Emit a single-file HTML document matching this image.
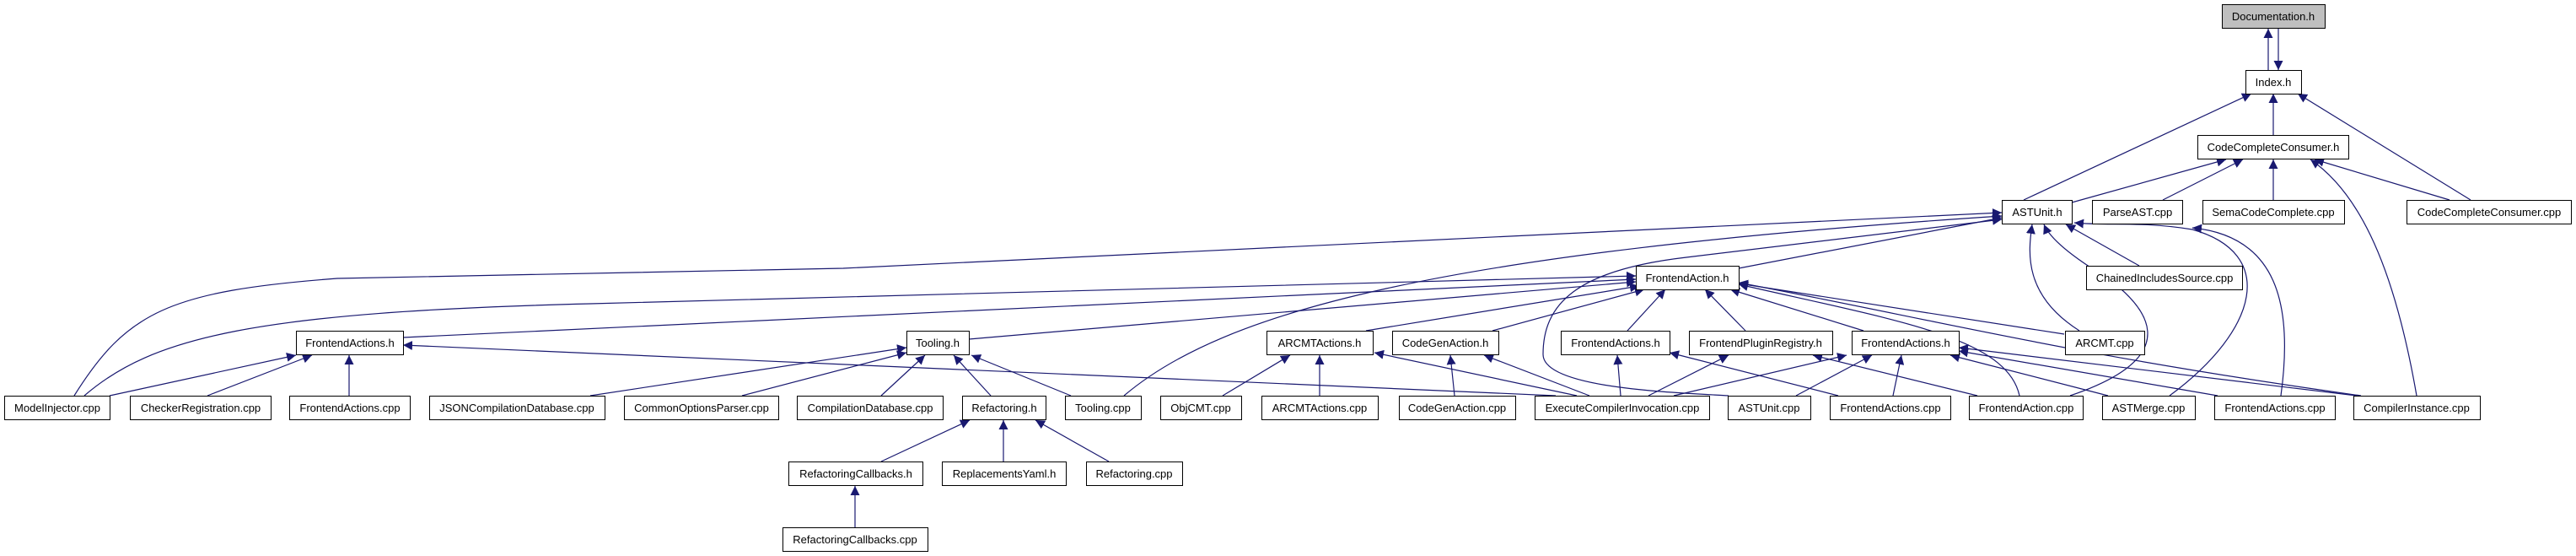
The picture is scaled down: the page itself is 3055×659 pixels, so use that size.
<!DOCTYPE html>
<html><head><meta charset="utf-8"><style>
html,body{margin:0;padding:0;background:#fff;}
svg{display:block;}
text{font-family:"Liberation Sans",sans-serif;font-size:13px;fill:#000;}
</style></head><body>
<svg width="3055" height="659" viewBox="0 0 3055 659" xmlns="http://www.w3.org/2000/svg">
<defs>
<marker id="a" viewBox="0 0 10 10" refX="10" refY="5" markerWidth="11" markerHeight="11" markerUnits="userSpaceOnUse" orient="auto">
<path d="M0,0 L10,5 L0,10 z" fill="#191970"/>
</marker>
</defs>
<g fill="none" stroke="#191970" stroke-width="1.2" marker-end="url(#a)">
<path d="M2690,83 L2690,34"/>
<path d="M2702,34 L2702,83"/>
<path d="M2400,237 L2670,111"/>
<path d="M2696,160 L2696,111"/>
<path d="M2930,237 L2725,111"/>
<path d="M2457,240 L2640,189"/>
<path d="M2565,237 L2660,189"/>
<path d="M2696,237 L2696,189"/>
<path d="M2905,237 L2745,189"/>
<path d="M2866,469 C2840,320 2800,230 2740,189"/>
<path d="M2062,318 L2374,258"/>
<path d="M2537,315 L2450,266"/>
<path d="M88,469 C150,370 200,345 400,330 L1000,318 L2374,252"/>
<path d="M1333,469 C1450,370 1700,300 2374,256"/>
<path d="M2466,392 C2400,350 2405,300 2410,266"/>
<path d="M2455,469 C2600,420 2540,360 2500,330 C2450,300 2430,280 2424,266"/>
<path d="M2573,469 C2680,390 2700,300 2600,272 C2540,262 2500,268 2460,264"/>
<path d="M2705,469 C2720,360 2700,280 2600,270"/>
<path d="M2050,469 C1980,465 1830,460 1830,420 C1830,360 1870,320 2000,305 L2374,260"/>
<path d="M100,469 C180,400 300,370 700,360 L1940,327"/>
<path d="M478,400 L1940,331"/>
<path d="M1149,402 L1940,334"/>
<path d="M1620,392 L1944,339"/>
<path d="M1770,392 L1950,343"/>
<path d="M1930,392 L1975,343"/>
<path d="M2070,392 L2022,343"/>
<path d="M2210,392 L2052,343"/>
<path d="M2448,396 L2062,336"/>
<path d="M2395,469 C2380,400 2250,380 2062,337"/>
<path d="M2800,469 C2450,420 2300,380 2062,335"/>
<path d="M130,469 L351,421"/>
<path d="M246,469 L370,421"/>
<path d="M414,469 L414,421"/>
<path d="M1845,469 L478,409"/>
<path d="M700,469 L1075,412"/>
<path d="M880,469 L1075,418"/>
<path d="M1045,469 L1097,421"/>
<path d="M1175,469 L1131,421"/>
<path d="M1270,469 L1152,421"/>
<path d="M1045,547 L1150,498"/>
<path d="M1190,547 L1190,498"/>
<path d="M1315,547 L1228,498"/>
<path d="M1014,625 L1014,576"/>
<path d="M1450,469 L1530,421"/>
<path d="M1565,469 L1565,421"/>
<path d="M1870,469 L1630,418"/>
<path d="M1725,469 L1720,421"/>
<path d="M1885,469 L1760,421"/>
<path d="M1922,469 L1918,421"/>
<path d="M2180,469 L1980,418"/>
<path d="M1955,469 L2050,421"/>
<path d="M2345,469 L2150,421"/>
<path d="M1985,469 L2190,421"/>
<path d="M2130,469 L2220,421"/>
<path d="M2245,469 L2255,421"/>
<path d="M2500,469 L2313,421"/>
<path d="M2630,469 L2323,416"/>
<path d="M2795,469 L2323,412"/>
</g>
<g stroke="#000" stroke-width="1" fill="#fff">
<rect x="2635.5" y="5.5" width="122" height="28" fill="#bfbfbf"/>
<rect x="2663.5" y="83.5" width="66" height="28"/>
<rect x="2606.5" y="160.5" width="179" height="28"/>
<rect x="2374.5" y="237.5" width="83" height="28"/>
<rect x="2481.5" y="237.5" width="107" height="28"/>
<rect x="2612.5" y="237.5" width="168" height="28"/>
<rect x="2854.5" y="237.5" width="195" height="28"/>
<rect x="1940.5" y="315.5" width="122" height="28"/>
<rect x="2474.5" y="315.5" width="185" height="28"/>
<rect x="351.5" y="392.5" width="127" height="28"/>
<rect x="1075.5" y="392.5" width="74" height="28"/>
<rect x="1502.5" y="392.5" width="126" height="28"/>
<rect x="1651.5" y="392.5" width="126" height="28"/>
<rect x="1851.5" y="392.5" width="129" height="28"/>
<rect x="2003.5" y="392.5" width="170" height="28"/>
<rect x="2196.5" y="392.5" width="127" height="28"/>
<rect x="2449.5" y="392.5" width="94" height="28"/>
<rect x="5.5" y="469.5" width="125" height="28"/>
<rect x="154.5" y="469.5" width="167" height="28"/>
<rect x="343.5" y="469.5" width="143" height="28"/>
<rect x="509.5" y="469.5" width="208" height="28"/>
<rect x="740.5" y="469.5" width="183" height="28"/>
<rect x="945.5" y="469.5" width="173" height="28"/>
<rect x="1141.5" y="469.5" width="99" height="28"/>
<rect x="1263.5" y="469.5" width="90" height="28"/>
<rect x="1376.5" y="469.5" width="96" height="28"/>
<rect x="1496.5" y="469.5" width="138" height="28"/>
<rect x="1659.5" y="469.5" width="138" height="28"/>
<rect x="1820.5" y="469.5" width="207" height="28"/>
<rect x="2049.5" y="469.5" width="98" height="28"/>
<rect x="2170.5" y="469.5" width="143" height="28"/>
<rect x="2335.5" y="469.5" width="135" height="28"/>
<rect x="2493.5" y="469.5" width="110" height="28"/>
<rect x="2626.5" y="469.5" width="143" height="28"/>
<rect x="2791.5" y="469.5" width="150" height="28"/>
<rect x="935.5" y="547.5" width="159" height="28"/>
<rect x="1117.5" y="547.5" width="147" height="28"/>
<rect x="1288.5" y="547.5" width="114" height="28"/>
<rect x="928.5" y="625.5" width="172" height="28"/>
</g>
<g text-anchor="middle">
<text x="2696" y="24">Documentation.h</text>
<text x="2696" y="102">Index.h</text>
<text x="2696" y="179">CodeCompleteConsumer.h</text>
<text x="2416" y="256">ASTUnit.h</text>
<text x="2535" y="256">ParseAST.cpp</text>
<text x="2696" y="256">SemaCodeComplete.cpp</text>
<text x="2952" y="256">CodeCompleteConsumer.cpp</text>
<text x="2001" y="334">FrontendAction.h</text>
<text x="2567" y="334">ChainedIncludesSource.cpp</text>
<text x="415" y="411">FrontendActions.h</text>
<text x="1112" y="411">Tooling.h</text>
<text x="1565" y="411">ARCMTActions.h</text>
<text x="1714" y="411">CodeGenAction.h</text>
<text x="1916" y="411">FrontendActions.h</text>
<text x="2088" y="411">FrontendPluginRegistry.h</text>
<text x="2260" y="411">FrontendActions.h</text>
<text x="2496" y="411">ARCMT.cpp</text>
<text x="68" y="488">ModelInjector.cpp</text>
<text x="238" y="488">CheckerRegistration.cpp</text>
<text x="415" y="488">FrontendActions.cpp</text>
<text x="613" y="488">JSONCompilationDatabase.cpp</text>
<text x="832" y="488">CommonOptionsParser.cpp</text>
<text x="1032" y="488">CompilationDatabase.cpp</text>
<text x="1191" y="488">Refactoring.h</text>
<text x="1308" y="488">Tooling.cpp</text>
<text x="1424" y="488">ObjCMT.cpp</text>
<text x="1565" y="488">ARCMTActions.cpp</text>
<text x="1728" y="488">CodeGenAction.cpp</text>
<text x="1924" y="488">ExecuteCompilerInvocation.cpp</text>
<text x="2098" y="488">ASTUnit.cpp</text>
<text x="2242" y="488">FrontendActions.cpp</text>
<text x="2403" y="488">FrontendAction.cpp</text>
<text x="2548" y="488">ASTMerge.cpp</text>
<text x="2698" y="488">FrontendActions.cpp</text>
<text x="2866" y="488">CompilerInstance.cpp</text>
<text x="1015" y="566">RefactoringCallbacks.h</text>
<text x="1191" y="566">ReplacementsYaml.h</text>
<text x="1345" y="566">Refactoring.cpp</text>
<text x="1014" y="644">RefactoringCallbacks.cpp</text>
</g>
</svg>
</body></html>
